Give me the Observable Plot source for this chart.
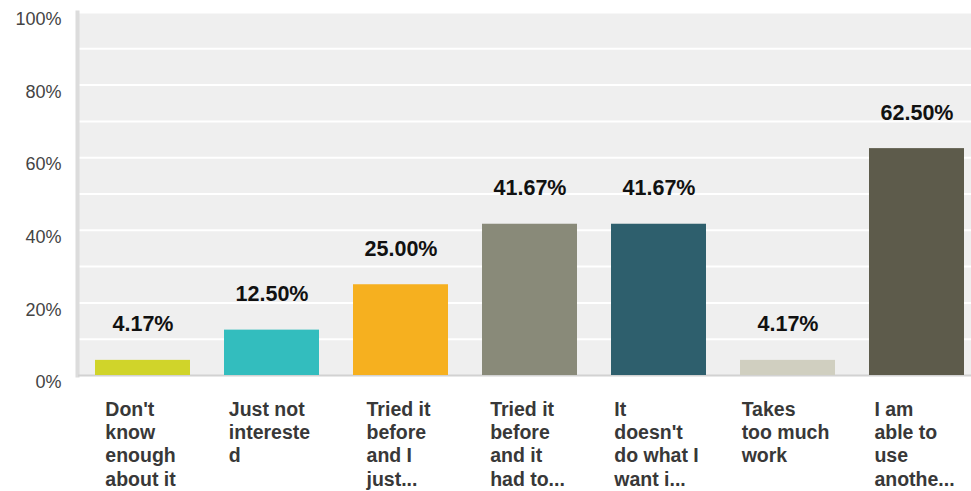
<!DOCTYPE html>
<html>
<head>
<meta charset="utf-8">
<script src="https://cdn.jsdelivr.net/npm/d3@7"></script>
<script src="https://cdn.jsdelivr.net/npm/@observablehq/plot@0.6"></script>
<style>
  html, body { margin: 0; padding: 0; background: #fff; overflow: hidden; }
  #chart svg { display: block; overflow: hidden; }
</style>
</head>
<body>
<div id="chart"></div>
<script>
const categories = [
  "Don't know enough about it",
  "Just not interested",
  "Tried it before and I just...",
  "Tried it before and it had to...",
  "It doesn't do what I want i...",
  "Takes too much work",
  "I am able to use anothe..."
];
const categoryLabels = [
  "Don't\nknow\nenough\nabout it",
  "Just not\nintereste\nd",
  "Tried it\nbefore\nand I\njust...",
  "Tried it\nbefore\nand it\nhad to...",
  "It\ndoesn't\ndo what I\nwant i...",
  "Takes\ntoo much\nwork",
  "I am\nable to\nuse\nanothe..."
];
const values = [4.17, 12.50, 25.00, 41.67, 41.67, 4.17, 62.50];
const colors = ["#d0d42a", "#33bdbe", "#f6b01f", "#898a79", "#2e5f6d", "#d0cfc0", "#5d5b4b"];
const yTicks = [0, 20, 40, 60, 80, 100];
const gridValues = [10, 20, 30, 40, 50, 60, 70, 80, 90, 100];

const font = "'Liberation Sans', Arial, Helvetica, sans-serif";
const catFontSize = 19.5;

// measure each wrapped label so the block is centred under its bar, text left-aligned
const ctx = document.createElement("canvas").getContext("2d");
ctx.font = `bold ${catFontSize}px 'Liberation Sans', Arial, sans-serif`;
const blockWidth = s => d3.max(s.split("\n"), l => ctx.measureText(l).width);

const data = categories.map((c, i) => ({
  cat: c, label: categoryLabels[i], value: values[i], half: blockWidth(categoryLabels[i]) / 2
}));

const chart = Plot.plot({
  width: 971,
  height: 491,
  marginLeft: 78,
  marginRight: 0,
  marginTop: 12,
  marginBottom: 116,
  style: {fontFamily: font, background: "#fff"},
  x: {domain: categories, range: [78, 981], paddingInner: 0.2636, paddingOuter: 0.1318, axis: null},
  y: {domain: [0, 100], axis: null, label: null},
  color: {domain: categories, range: colors},
  marks: [
    Plot.frame({fill: "#efefef", stroke: null}),
    Plot.ruleY(gridValues, {stroke: "#ffffff", strokeWidth: 2}),
    Plot.frame({anchor: "left", stroke: "#dcdcdc", strokeWidth: 4, dx: -1}),
    Plot.ruleY([0], {stroke: "#d2d2d2", strokeWidth: 2, dy: 0}),
    Plot.barY(data, {x: "cat", y: "value", fill: "cat"}),
    Plot.text(data, {
      x: "cat", y: "value",
      text: d => d.value.toFixed(2) + "%",
      dy: -29, lineAnchor: "bottom",
      fontSize: 21.5, fontWeight: "bold", fill: "#111"
    }),
    ...data.map(d => Plot.text([d], {
      x: "cat", y: 0,
      text: "label",
      textAnchor: "start", lineAnchor: "top",
      dx: -d.half - 2.5, dy: 24, lineHeight: 1.19,
      fontSize: catFontSize, fontWeight: "bold", fill: "#383838"
    })),
    Plot.axisY(yTicks, {
      label: null,
      tickSize: 0, tickPadding: 17, dy: 7,
      fontSize: 18, fill: "#444",
      tickFormat: d => d + "%"
    })
  ]
});
document.getElementById("chart").appendChild(chart);
</script>
</body>
</html>
